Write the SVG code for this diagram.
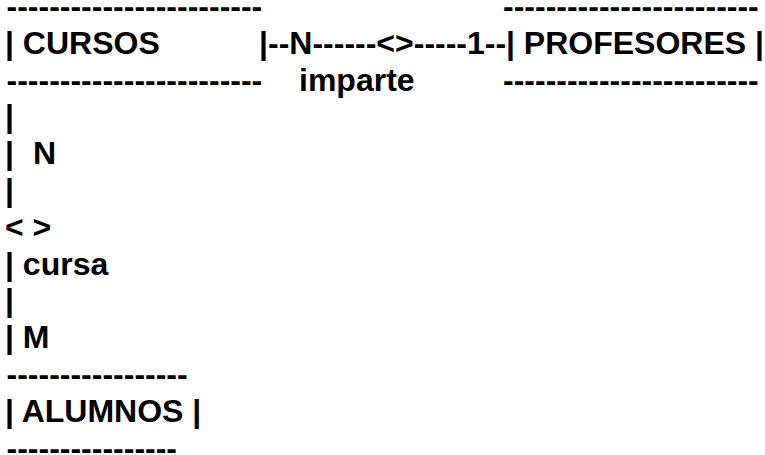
<svg xmlns="http://www.w3.org/2000/svg" width="765" height="455" viewBox="0 0 765 455">
<style>
text{font-family:"Liberation Sans",Arial,sans-serif;font-weight:bold;font-size:32px;fill:#000}
</style>
<rect width="765" height="455" fill="#fff"/>
<g id="cursos">
<text x="6.5" y="17">------------------------</text>
<text x="5" y="53.8">| CURSOS</text>
<text x="259" y="53.8">|</text>
<text x="6.5" y="90.6">------------------------</text>
</g>
<g id="profesores">
<text x="503" y="17">------------------------</text>
<text x="506" y="53.8">| PROFESORES |</text>
<text x="503" y="90.6">------------------------</text>
</g>
<g id="alumnos">
<text x="6.5" y="385">-----------------</text>
<text x="5" y="421.8">| ALUMNOS |</text>
<text x="6.5" y="458.6">----------------</text>
</g>
<g id="imparte">
<text x="299" y="90.6">imparte</text>
</g>
<g id="cursa">
<text x="5" y="274.6">| cursa</text>
</g>
<g id="connectors">
<text x="268" y="53.8">--N------&lt;&gt;-----1--</text>
<text x="5" y="127.4">|</text>
<text x="5" y="164.2">|</text>
<text x="33" y="164.2">N</text>
<text x="5" y="201">|</text>
<text x="5" y="237.8">&lt; &gt;</text>
<text x="5" y="311.4">|</text>
<text x="5" y="348.2">| M</text>
</g>
</svg>
